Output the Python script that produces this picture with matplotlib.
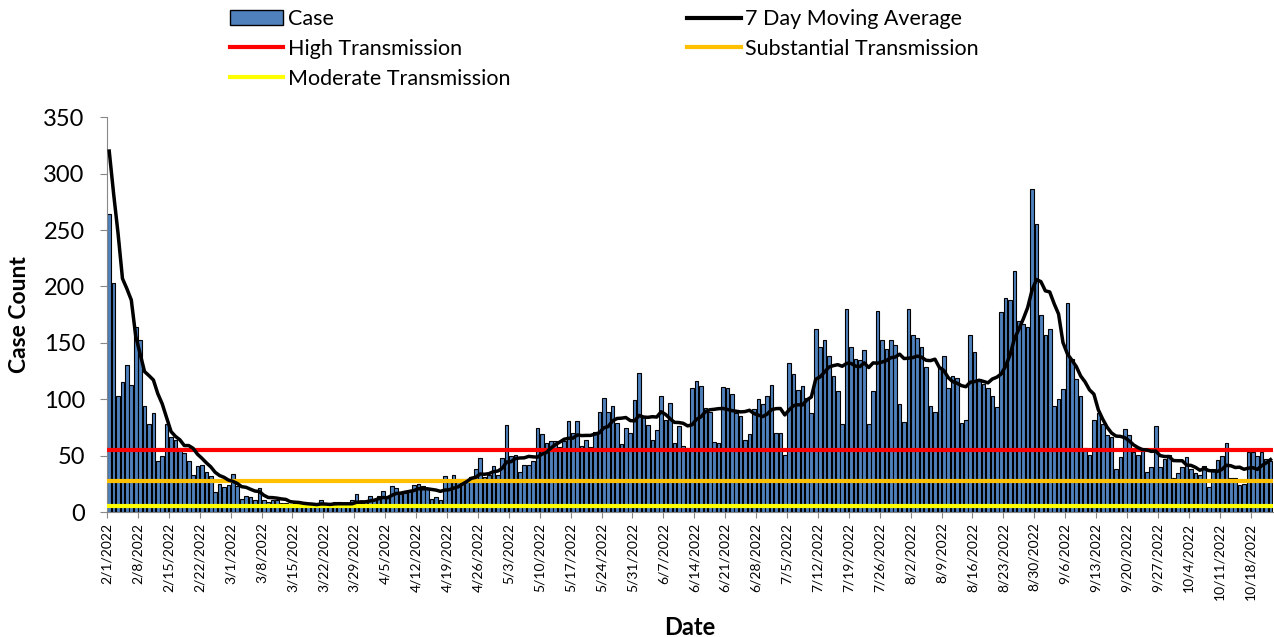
import datetime as dt
import matplotlib
matplotlib.use("Agg")
import matplotlib.pyplot as plt
from matplotlib.lines import Line2D
from matplotlib.patches import Patch
import numpy as np
import pandas as pd

plt.rcParams['font.family'] = ['Lato', 'DejaVu Sans']

# daily case counts, 2/1/2022 onward
cases = [
    264, 203, 103, 115, 130, 113, 164, 153, 94, 78, 88, 45, 50, 78,
    67, 64, 57, 52, 45, 33, 41, 42, 36, 32, 18, 25, 22, 24,
    34, 23, 12, 14, 13, 11, 21, 11, 9, 11, 11, 8, 8, 7,
    8, 7, 6, 8, 6, 5, 11, 7, 5, 9, 9, 6, 5, 11,
    16, 8, 9, 14, 11, 14, 19, 14, 23, 21, 16, 17, 19, 24,
    25, 23, 21, 12, 13, 11, 32, 27, 33, 29, 29, 29, 31, 38,
    48, 31, 33, 41, 33, 48, 77, 50, 51, 36, 42, 42, 45, 75,
    69, 61, 63, 63, 58, 63, 81, 70, 81, 59, 64, 58, 71, 89,
    101, 89, 94, 79, 60, 75, 70, 99, 123, 84, 77, 64, 73, 103,
    82, 97, 61, 76, 59, 57, 110, 116, 112, 92, 89, 62, 61, 111,
    110, 105, 88, 85, 64, 69, 91, 100, 96, 103, 113, 70, 70, 51,
    132, 122, 108, 112, 101, 88, 162, 146, 153, 138, 121, 107, 78, 180,
    146, 136, 135, 144, 78, 107, 178, 153, 145, 153, 148, 96, 80, 180,
    157, 154, 146, 129, 94, 89, 129, 138, 110, 121, 119, 79, 82, 157,
    142, 118, 114, 110, 103, 93, 177, 190, 188, 214, 169, 167, 164, 286,
    255, 175, 157, 162, 94, 100, 109, 185, 136, 118, 103, 57, 51, 82,
    88, 78, 68, 67, 38, 49, 74, 68, 53, 51, 55, 36, 40, 76,
    40, 47, 51, 30, 35, 40, 49, 38, 35, 33, 41, 22, 38, 46,
    50, 61, 30, 30, 24, 25, 53, 53, 50, 53, 47, 45,
]
# moving average for the first six days (uses January data not shown)
ma_head = [320, 282, 247, 207, 198, 188]

high_level = 55
substantial_level = 27.5
moderate_level = 5.5

start = dt.date(2022, 2, 1)
n = len(cases)
days = np.arange(n)
ma = pd.Series(cases).rolling(7).mean().to_numpy()
ma[:len(ma_head)] = ma_head

tick_pos = np.arange(0, n, 7)
tick_labels = []
for p in tick_pos:
    d = start + dt.timedelta(days=int(p))
    tick_labels.append(f"{d.month}/{d.day}/{d.year}")

fig = plt.figure(figsize=(12.74, 6.37), dpi=100)
ax = fig.add_axes([0.084, 0.196, 0.915, 0.62])

ax.bar(days + 0.5, cases, width=0.82, color="#4F81BD", edgecolor="black", linewidth=0.8, zorder=2)
ax.axhline(high_level, color="#FF0000", linewidth=3, zorder=3)
ax.axhline(substantial_level, color="#FFC000", linewidth=3, zorder=3)
ax.axhline(moderate_level, color="#FFFF00", linewidth=3, zorder=3)
ax.plot(days + 0.5, ma, color="black", linewidth=2.5, zorder=4)

ax.set_xlim(0, n)
ax.set_ylim(0, 350)
ax.set_yticks(range(0, 351, 50))
ax.set_xticks(tick_pos)
ax.set_xticklabels(tick_labels, rotation=90, fontsize=10)
ax.tick_params(axis="y", labelsize=17, length=5, color="#888888", pad=11)
ax.tick_params(axis="x", length=4, color="#888888")
for s in ["top", "right"]:
    ax.spines[s].set_visible(False)
for s in ["left", "bottom"]:
    ax.spines[s].set_color("#888888")

ax.set_ylabel("Case Count", fontsize=16.5, fontweight="bold", labelpad=10)
ax.set_xlabel("Date", fontsize=17, fontweight="bold", labelpad=12)

handles = [
    Patch(facecolor="#4F81BD", edgecolor="black", label="Case"),
    Line2D([], [], color="#FF0000", linewidth=3, label="High Transmission"),
    Line2D([], [], color="#FFFF00", linewidth=3, label="Moderate Transmission"),
    Line2D([], [], color="black", linewidth=3, label="7 Day Moving Average"),
    Line2D([], [], color="#FFC000", linewidth=3, label="Substantial Transmission"),
]
fig.legend(handles=handles, ncol=2, loc="upper left", bbox_to_anchor=(0.165, 1.016),
           frameon=False, fontsize=15.5, handlelength=2.5, columnspacing=8.2,
           labelspacing=0.45, handletextpad=0.2)

fig.savefig("out.png", dpi=100)
